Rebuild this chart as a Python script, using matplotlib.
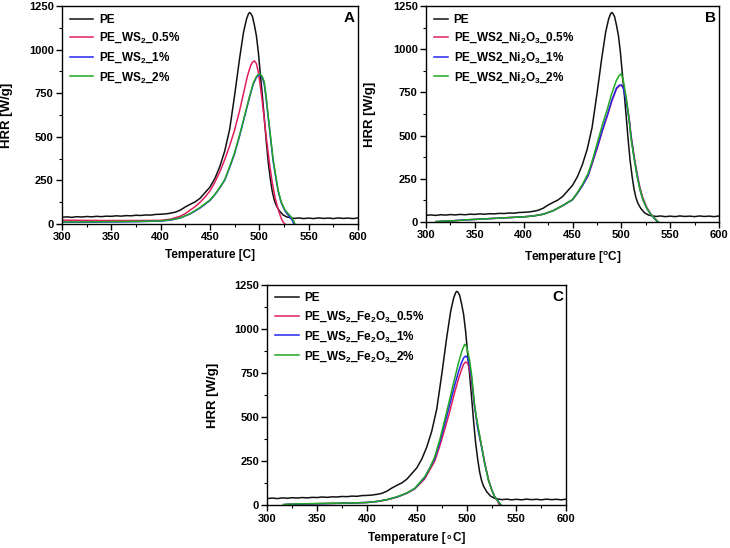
import matplotlib
matplotlib.use("Agg")
import matplotlib.pyplot as plt
from matplotlib.ticker import MultipleLocator

plt.rcParams['font.family'] = ['Liberation Sans', 'DejaVu Sans']
plt.rcParams['font.weight'] = 'bold'
plt.rcParams['mathtext.default'] = 'regular'

# ---------------- data ----------------
pe_T = [300, 305, 310, 315, 320, 325, 330, 335, 340, 345, 350, 355, 360, 365, 370, 375, 380,
        385, 390, 395, 400, 405, 410, 415, 420, 425, 430, 435, 440, 445, 450, 455, 460, 465,
        470, 475, 480, 484, 487, 489, 490, 491, 493, 495, 497, 499, 501, 503, 505, 507, 509,
        511, 513, 515, 517, 520, 524, 528, 532, 536, 540, 545, 550, 555, 560, 565, 570, 575,
        580, 585, 590, 595, 600]
pe_V = [38, 41, 38, 42, 40, 43, 41, 44, 42, 45, 44, 47, 45, 48, 47, 50, 49, 52, 51, 55, 56, 58,
        62, 68, 80, 98, 113, 127, 148, 180, 212, 262, 330, 420, 545, 740, 950, 1100, 1175, 1205,
        1212, 1210, 1190, 1140, 1080, 985, 860, 740, 610, 475, 355, 265, 190, 140, 108, 78, 52,
        40, 35, 32, 35, 31, 34, 31, 35, 32, 34, 31, 35, 32, 34, 31, 35]

# Panel A: PE_WS2
a05_T = [300, 320, 340, 360, 380, 400, 410, 420, 425, 430, 435, 440, 445, 450, 455, 460, 465,
         470, 475, 480, 484, 488, 491, 493, 495, 497, 499, 501, 503, 505, 507, 510, 513, 516,
         519, 522, 524, 526]
a05_V = [22, 21, 20, 20, 20, 21, 28, 45, 60, 80, 100, 125, 155, 190, 240, 300, 370, 450, 540,
         650, 750, 850, 905, 928, 935, 920, 870, 790, 700, 600, 500, 360, 240, 150, 85, 35, 12, 0]
a1_T = [300, 320, 340, 360, 380, 400, 410, 420, 430, 440, 450, 455, 460, 465, 470, 475, 480,
        485, 490, 494, 497, 499, 501, 503, 505, 507, 509, 511, 514, 517, 519, 522, 526, 530,
        533, 535]
a1_V = [10, 10, 11, 12, 14, 17, 22, 35, 58, 92, 135, 168, 208, 252, 325, 405, 505, 615, 725,
        805, 840, 852, 855, 840, 800, 715, 610, 510, 360, 255, 190, 125, 75, 45, 25, 0]
a2_T = [300, 320, 340, 360, 380, 400, 410, 420, 430, 440, 450, 455, 460, 465, 470, 475, 480,
        485, 490, 494, 497, 499, 501, 503, 505, 507, 509, 511, 514, 517, 519, 522, 526, 530,
        533, 535, 536]
a2_V = [12, 12, 13, 14, 15, 18, 24, 35, 60, 95, 138, 170, 210, 255, 330, 410, 510, 620, 730,
        810, 845, 858, 860, 845, 815, 725, 620, 520, 370, 265, 195, 130, 80, 55, 35, 15, 0]

# Panel B: PE_WS2_Ni2O3
b05_T = [310, 320, 330, 340, 350, 360, 370, 380, 390, 400, 410, 420, 430, 440, 450, 455, 460,
         466, 470, 476, 481, 486, 490, 495, 498, 500, 502, 505, 508, 510, 513, 516, 519, 522,
         526, 530, 534, 538]
b05_V = [2, 5, 8, 12, 15, 18, 21, 24, 27, 30, 35, 45, 65, 95, 130, 168, 210, 268, 335, 440,
         535, 620, 695, 770, 788, 792, 778, 712, 600, 500, 385, 285, 200, 140, 85, 48, 22, 0]
b1_T = [310, 320, 330, 340, 350, 360, 370, 380, 390, 400, 410, 420, 430, 440, 450, 455, 460,
        466, 470, 476, 481, 486, 490, 495, 498, 500, 502, 505, 508, 510, 513, 516, 519, 522,
        526, 530, 534, 537]
b1_V = [2, 5, 8, 12, 15, 18, 21, 24, 27, 30, 35, 45, 65, 95, 128, 166, 208, 270, 340, 445,
        540, 625, 700, 775, 792, 793, 775, 700, 590, 490, 375, 275, 190, 130, 80, 45, 20, 0]
b2_T = [310, 320, 330, 340, 350, 360, 370, 380, 390, 400, 410, 420, 430, 440, 450, 455, 460,
        466, 470, 476, 481, 486, 490, 495, 498, 500, 502, 505, 508, 510, 513, 516, 519, 522,
        526, 530, 534, 538]
b2_V = [2, 5, 8, 12, 15, 18, 21, 24, 27, 30, 35, 45, 65, 95, 130, 170, 215, 282, 350, 470,
        570, 660, 740, 820, 850, 857, 820, 720, 590, 480, 370, 270, 190, 130, 80, 45, 20, 0]

# Panel C: PE_WS2_Fe2O3
c05_T = [320, 340, 360, 380, 400, 410, 420, 430, 440, 448, 458, 468, 473, 478, 483, 488, 492,
         495, 497, 499, 501, 503, 505, 508, 511, 515, 518, 522, 525, 528, 531, 533]
c05_V = [5, 8, 10, 12, 16, 21, 31, 46, 68, 93, 150, 250, 335, 430, 530, 640, 720, 770, 800,
         812, 805, 770, 700, 560, 450, 335, 245, 145, 92, 50, 25, 0]
c1_T = [318, 340, 360, 380, 400, 410, 420, 430, 440, 448, 458, 468, 473, 478, 483, 488, 492,
        495, 497, 499, 501, 503, 505, 508, 511, 515, 518, 522, 525, 528, 532, 534]
c1_V = [5, 8, 10, 12, 16, 22, 32, 47, 69, 95, 158, 265, 355, 460, 570, 680, 760, 810, 835,
        846, 835, 790, 720, 560, 440, 330, 240, 140, 90, 50, 20, 0]
c2_T = [316, 330, 350, 370, 390, 400, 410, 420, 430, 440, 448, 458, 463, 468, 473, 478, 483,
        488, 492, 495, 498, 500, 503, 505, 508, 510, 512, 515, 518, 522, 525, 528, 532, 535]
c2_V = [5, 8, 10, 12, 14, 16, 22, 32, 48, 70, 96, 162, 210, 275, 370, 483, 600, 720, 810, 870,
        912, 900, 820, 740, 565, 490, 430, 335, 240, 140, 90, 50, 20, 0]

panel_letters = ["A", "B", "C"]
legend_labels = [
    ["PE", "PE_WS$_2$_0.5%", "PE_WS$_2$_1%", "PE_WS$_2$_2%"],
    ["PE", "PE_WS2_Ni$_2$O$_3$_0.5%", "PE_WS2_Ni$_2$O$_3$_1%", "PE_WS2_Ni$_2$O$_3$_2%"],
    ["PE", "PE_WS$_2$_Fe$_2$O$_3$_0.5%", "PE_WS$_2$_Fe$_2$O$_3$_1%", "PE_WS$_2$_Fe$_2$O$_3$_2%"],
]
xlabels = ["Temperature [C]", "Temperature [$^{o}$C]", "Temperature [\u2218C]"]
ylabel = "HRR [W/g]"
x_ticks = [300, 350, 400, 450, 500, 550, 600]
y_ticks = [0, 250, 500, 750, 1000, 1250]

series = [
    [(pe_T, pe_V), (a05_T, a05_V), (a1_T, a1_V), (a2_T, a2_V)],
    [(pe_T, pe_V), (b05_T, b05_V), (b1_T, b1_V), (b2_T, b2_V)],
    [(pe_T, pe_V), (c05_T, c05_V), (c1_T, c1_V), (c2_T, c2_V)],
]
colors = ["#111111", "#e0205c", "#2424f0", "#22a822"]

# ---------------- layout ----------------
fig = plt.figure(figsize=(7.3, 5.48), dpi=100)
W, H = 730, 548
boxes = [(62, 224, 296, 218), (426, 222, 293, 216), (267.3, 505.3, 299, 220.6)]
ylab_x = [-0.165, -0.17, -0.16]
xlab_y = [-0.115, -0.125, -0.122]
handle_len = [2.0, 1.2, 2.0]
leg_fs = [8.5, 8.5, 8.5]

for i in range(3):
    l, b, w, h = boxes[i]
    ax = fig.add_axes([l / W, (H - b) / H, w / W, h / H])
    for k in range(4):
        T, V = series[i][k]
        ax.plot(T, V, color=colors[k], lw=1.1, label=legend_labels[i][k])
    ax.set_xlim(300, 600)
    ax.set_ylim(0, 1250)
    ax.set_xticks(x_ticks)
    ax.set_yticks(y_ticks)
    ax.xaxis.set_minor_locator(MultipleLocator(25))
    ax.yaxis.set_minor_locator(MultipleLocator(125))
    ax.tick_params(which='major', direction='out', length=4, width=1, labelsize=8, pad=2)
    ax.tick_params(which='minor', direction='out', length=2, width=0.8)
    for lab in ax.get_xticklabels() + ax.get_yticklabels():
        lab.set_fontweight('bold')
    for sp in ax.spines.values():
        sp.set_linewidth(1.0)
    ax.set_xlabel(xlabels[i], fontsize=8.5, fontweight='bold')
    ax.set_ylabel(ylabel, fontsize=9.5, fontweight='bold')
    ax.yaxis.set_label_coords(ylab_x[i], 0.5)
    ax.xaxis.set_label_coords(0.5, xlab_y[i])
    ax.text(0.99, 0.945, panel_letters[i], transform=ax.transAxes, ha='right', va='center',
            fontsize=11, fontweight='bold')
    ax.legend(loc='upper left', frameon=False, handlelength=handle_len[i],
              handletextpad=0.5, labelspacing=0.45, borderaxespad=0.25,
              prop={'weight': 'bold', 'size': leg_fs[i]})

fig.savefig("out.png", dpi=100)
